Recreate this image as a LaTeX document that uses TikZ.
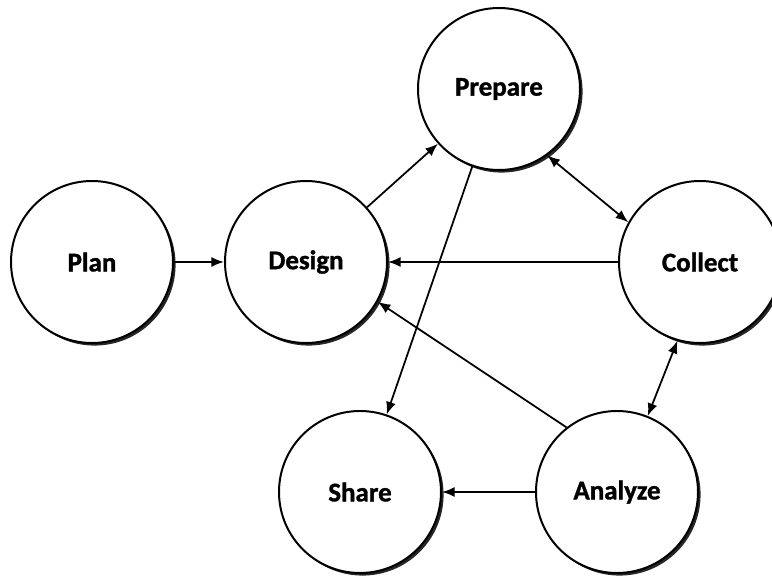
\documentclass[tikz,border=0pt]{standalone}
\usepackage{fontspec}
\setmainfont{Carlito}
\newfontfamily\stagefont{Carlito}[BoldFeatures={FakeBold=1.3}]
\usetikzlibrary{arrows.meta}
\usetikzlibrary{shadows}
\tikzset{>={Latex[length=3.8mm,width=3mm]}}
\tikzset{stage/.style={circle, draw, line width=1.7pt, fill=white, minimum size=4.86cm, inner sep=0pt,
    font=\stagefont\bfseries\fontsize{23}{26}\selectfont,
    drop shadow={shadow xshift=2.2pt, shadow yshift=-2.2pt, fill=black!85, opacity=1}}}
\tikzset{flow/.style={line width=1.5pt}}

\begin{document}
\begin{tikzpicture}[x=0.03cm, y=0.03cm]
    \useasboundingbox (0,0) rectangle (772,576);
    \node[stage] (plan) at (92,314) {Plan};
    \node[stage] (design) at (306,314) {Design};
    \node[stage] (prepare) at (499,487) {Prepare};
    \node[stage] (collect) at (700,314) {Collect};
    \node[stage] (share) at (360,84) {Share};
    \node[stage] (analyze) at (617,84) {Analyze};
    % connectors
    \draw[flow, ->] (plan) -- (design);
    \draw[flow, ->] (design) -- (prepare);
    \draw[flow, ->] (prepare) -- (share);
    \draw[flow, <->] (prepare.-54) -- (collect.151);
    \draw[flow, ->] (collect) -- (design);
    \draw[flow, ->] (analyze.128) -- (design.-29);
    \draw[flow, <->] (collect.-106) -- (analyze.68);
    \draw[flow, ->] (analyze) -- (share);
\end{tikzpicture}
\end{document}
